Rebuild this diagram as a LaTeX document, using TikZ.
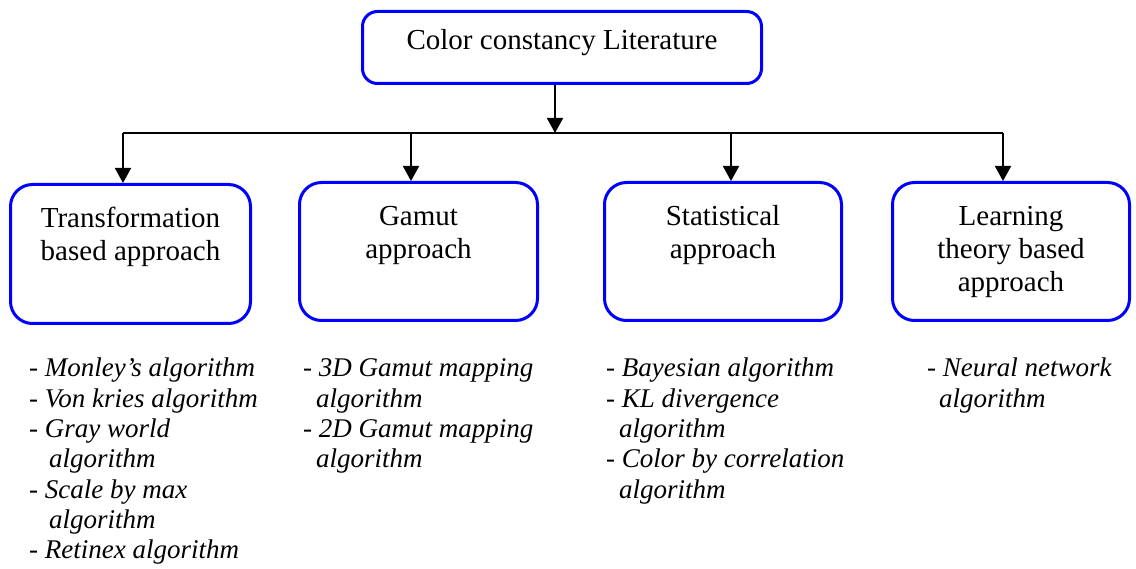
\documentclass[tikz,border=0pt]{standalone}
\usepackage{fontspec}
\setmainfont{Liberation Serif}
\usetikzlibrary{arrows.meta}
\begin{document}
\begin{tikzpicture}[x=1pt,y=-1pt,
  box/.style={draw=blue, line width=3pt, rounded corners=22pt, fill=white, inner sep=0pt},
  topbox/.style={box, rounded corners=15pt},
  boxtext/.style={anchor=base, inner sep=0pt, font=\fontsize{29}{33}\selectfont},
  listtext/.style={anchor=base west, inner sep=0pt, font=\fontsize{27}{30.3}\selectfont},
  conn/.style={line width=1.8pt},
  arr/.style={conn, -{Triangle[width=16pt,length=15pt]}}]
\useasboundingbox (0,0) rectangle (1136,569);

% boxes
\node[topbox, minimum width=399pt, minimum height=72pt] (top) at (562,47.5) {};
\node[box, minimum width=240pt, minimum height=139pt] (b1) at (130.5,254) {};
\node[box, minimum width=238pt, minimum height=138pt] (b2) at (418.5,251.5) {};
\node[box, minimum width=237pt, minimum height=138pt] (b3) at (723,251.5) {};
\node[box, minimum width=237pt, minimum height=138pt] (b4) at (1011,251.5) {};

% box texts
\node[boxtext] (ttop) at (562,50) {Color constancy Literature};
\node[boxtext] (t1) at (130.5,228) {\begin{tabular}[t]{@{}c@{}}Transformation\\based approach\end{tabular}};
\node[boxtext] (t2) at (418.5,226) {\begin{tabular}[t]{@{}c@{}}Gamut\\approach\end{tabular}};
\node[boxtext] (t3) at (723,226) {\begin{tabular}[t]{@{}c@{}}Statistical\\approach\end{tabular}};
\node[boxtext] (t4) at (1011,226) {\begin{tabular}[t]{@{}c@{}}Learning\\theory based\\approach\end{tabular}};

% connectors
\coordinate (j) at (555,133);
\coordinate (hl) at (123,133);
\coordinate (h2) at (411,133);
\coordinate (h3) at (731,133);
\coordinate (hr) at (1003,133);
\draw[arr] (top.south -| j) -- (j);
\draw[conn] (hl) -- (hr);
\draw[arr] (hl) -- (hl |- b1.north);
\draw[arr] (h2) -- (h2 |- b2.north);
\draw[arr] (h3) -- (h3 |- b3.north);
\draw[arr] (hr) -- (hr |- b4.north);

% lists
\node[listtext] (l1) at (29,377) {\begin{tabular}[t]{@{}l@{}}
-\ \textit{Monley’s algorithm}\\
-\ \textit{Von kries algorithm}\\
-\ \textit{Gray world}\\
\hspace*{20pt}\textit{algorithm}\\
-\ \textit{Scale by max}\\
\hspace*{20pt}\textit{algorithm}\\
-\ \textit{Retinex algorithm}
\end{tabular}};
\node[listtext] (l2) at (303,377) {\begin{tabular}[t]{@{}l@{}}
-\ \textit{3D Gamut mapping}\\
\hspace*{13pt}\textit{algorithm}\\
-\ \textit{2D Gamut mapping}\\
\hspace*{13pt}\textit{algorithm}
\end{tabular}};
\node[listtext] (l3) at (606,377) {\begin{tabular}[t]{@{}l@{}}
-\ \textit{Bayesian algorithm}\\
-\ \textit{KL divergence}\\
\hspace*{13pt}\textit{algorithm}\\
-\ \textit{Color by correlation}\\
\hspace*{13pt}\textit{algorithm}
\end{tabular}};
\node[listtext] (l4) at (927,377) {\begin{tabular}[t]{@{}l@{}}
-\ \textit{Neural network}\\
\hspace*{12pt}\textit{algorithm}
\end{tabular}};
\end{tikzpicture}
\end{document}
